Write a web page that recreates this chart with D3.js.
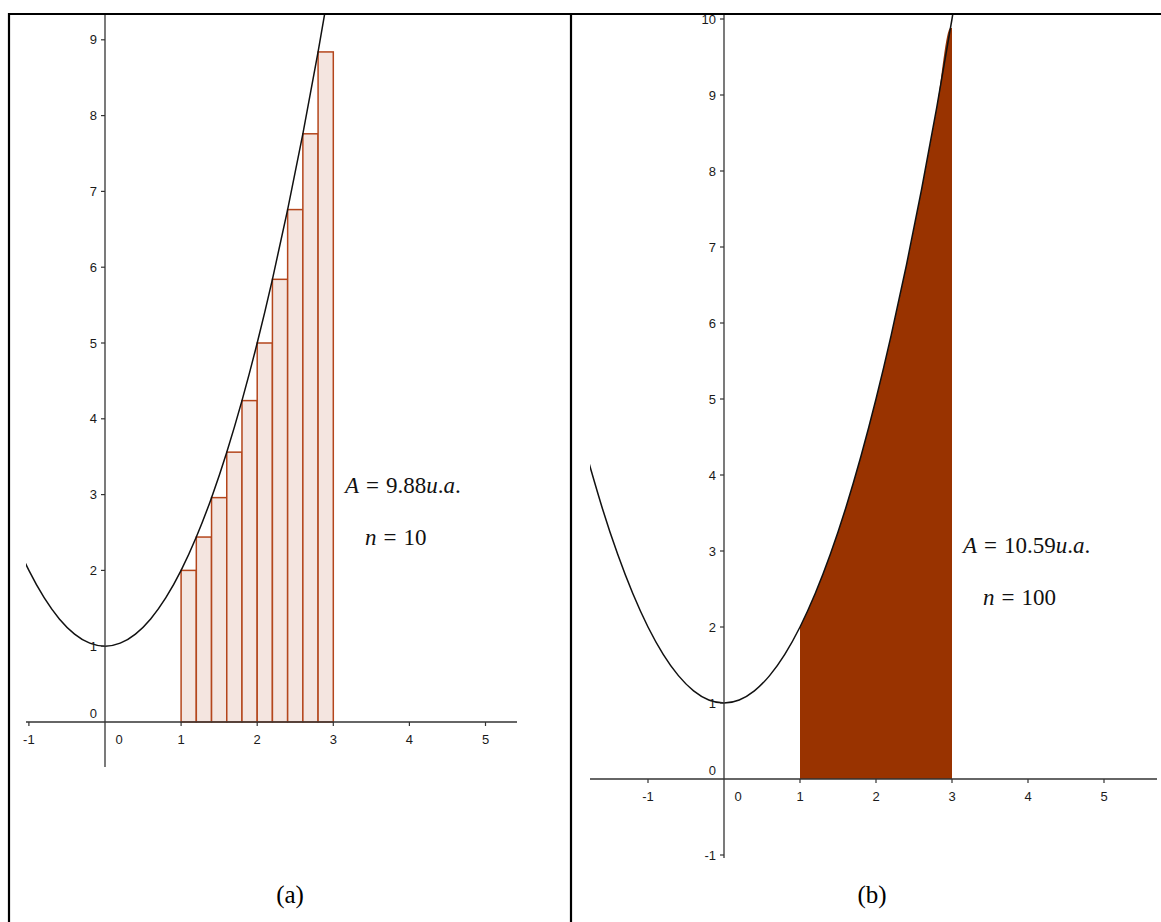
<!DOCTYPE html>
<html>
<head>
<meta charset="utf-8">
<script src="https://cdn.jsdelivr.net/npm/d3@7"></script>
<style>
  body { margin: 0; background: #fff; }
  svg { display: block; }
</style>
</head>
<body>
<svg id="chart" width="1161" height="922"></svg>
<script>
// ---------- data ----------
const xTicksA = [-1, 0, 1, 2, 3, 4, 5];
const yTicksA = [0, 1, 2, 3, 4, 5, 6, 7, 8, 9];
const xTicksB = [-1, 0, 1, 2, 3, 4, 5];
const yTicksB = [-1, 0, 1, 2, 3, 4, 5, 6, 7, 8, 9, 10];

// curve y = f(x) sample points
const curveX = [-1.8, -1.6, -1.4, -1.2, -1.0, -0.8, -0.6, -0.4, -0.2, 0, 0.2, 0.4, 0.6, 0.8, 1.0, 1.2, 1.4, 1.6, 1.8, 2.0, 2.2, 2.4, 2.6, 2.8, 3.0, 3.2];
const curveY = [4.24, 3.56, 2.96, 2.44, 2.00, 1.64, 1.36, 1.16, 1.04, 1.00, 1.04, 1.16, 1.36, 1.64, 2.00, 2.44, 2.96, 3.56, 4.24, 5.00, 5.84, 6.76, 7.76, 8.84, 10.00, 11.24];

// panel (a): 10 rectangles
const rectLeftA = [1.0, 1.2, 1.4, 1.6, 1.8, 2.0, 2.2, 2.4, 2.6, 2.8];
const rectHeightA = [2.00, 2.44, 2.96, 3.56, 4.24, 5.00, 5.84, 6.76, 7.76, 8.84];
const rectWidthA = 0.2;

// panel (b): filled region (n = 100)
const areaBX = [1.0, 1.2, 1.4, 1.6, 1.8, 2.0, 2.2, 2.4, 2.6, 2.8, 2.98, 3.0];
const areaBY = [2.00, 2.44, 2.96, 3.56, 4.24, 5.00, 5.84, 6.76, 7.76, 8.84, 9.88, 9.88];

const labelsA = { area: "9.88", n: "10", caption: "(a)" };
const labelsB = { area: "10.59", n: "100", caption: "(b)" };

// ---------- drawing ----------
const svg = d3.select("#chart");
const curvePts = curveX.map((x, i) => [x, curveY[i]]);
const sans = "'Liberation Sans', Arial, sans-serif";
const serif = "'Liberation Serif', 'Times New Roman', serif";

function panel(opt) {
  const g = svg.append("g");
  const x = d3.scaleLinear().domain([0, 1]).range([opt.x0, opt.x0 + opt.ux]);
  const y = d3.scaleLinear().domain([0, 1]).range([opt.y0, opt.y0 - opt.uy]);

  const clipId = "clip" + opt.id;
  svg.append("clipPath").attr("id", clipId)
    .append("rect").attr("x", opt.left).attr("y", 15)
    .attr("width", opt.right - opt.left).attr("height", opt.bottom - 15);

  const plot = g.append("g").attr("clip-path", `url(#${clipId})`);

  opt.drawFill(plot, x, y);

  const axisColor = "#333";
  g.append("line").attr("x1", opt.left).attr("x2", opt.right)
    .attr("y1", y(0)).attr("y2", y(0)).attr("stroke", axisColor).attr("stroke-width", 1.3);
  g.append("line").attr("x1", x(0)).attr("x2", x(0))
    .attr("y1", 15).attr("y2", opt.yAxisBottom).attr("stroke", axisColor).attr("stroke-width", 1.3);

  opt.xTicks.forEach(t => {
    if (t !== 0) {
      g.append("line").attr("x1", x(t)).attr("x2", x(t))
        .attr("y1", y(0)).attr("y2", y(0) + 4).attr("stroke", axisColor).attr("stroke-width", 1.2);
    }
    g.append("text").attr("x", t === 0 ? x(0) + 14 : x(t)).attr("y", y(0) + 22)
      .attr("text-anchor", "middle").style("font-family", sans)
      .attr("font-size", 13).attr("fill", "#1a1a1a").text(t < 0 ? "-" + Math.abs(t) : t);
  });
  opt.yTicks.forEach(t => {
    if (t !== 0) {
      g.append("line").attr("x1", x(0) - 4).attr("x2", x(0))
        .attr("y1", y(t)).attr("y2", y(t)).attr("stroke", axisColor).attr("stroke-width", 1.2);
    }
    g.append("text").attr("x", x(0) - 8).attr("y", t === 0 ? y(0) - 4 : y(t) + 4.5)
      .attr("text-anchor", "end").style("font-family", sans)
      .attr("font-size", 13).attr("fill", "#1a1a1a").text(t < 0 ? "-" + Math.abs(t) : t);
  });

  const line = d3.line().x(d => x(d[0])).y(d => y(d[1])).curve(d3.curveNatural);
  plot.append("path").datum(curvePts).attr("d", line)
    .attr("fill", "none").attr("stroke", "#111").attr("stroke-width", 1.5);

  const t1 = g.append("text").attr("x", opt.textX).attr("y", opt.textY)
    .style("font-family", serif).attr("font-size", 23).attr("fill", "#111");
  t1.append("tspan").attr("font-style", "italic").text("A");
  t1.append("tspan").attr("dx", 7).text("=");
  t1.append("tspan").attr("dx", 7).text(opt.labels.area);
  t1.append("tspan").attr("font-style", "italic").text("u");
  t1.append("tspan").text(".");
  t1.append("tspan").attr("font-style", "italic").text("a");
  t1.append("tspan").text(".");

  const t2 = g.append("text").attr("x", opt.textX + opt.nDx).attr("y", opt.textY + 52)
    .style("font-family", serif).attr("font-size", 23).attr("fill", "#111");
  t2.append("tspan").attr("font-style", "italic").text("n");
  t2.append("tspan").attr("dx", 7).text("=");
  t2.append("tspan").attr("dx", 7).text(opt.labels.n);

  g.append("text").attr("x", opt.capX).attr("y", 903).attr("text-anchor", "middle")
    .style("font-family", serif).attr("font-size", 25).attr("fill", "#000").text(opt.labels.caption);
}

panel({
  id: "A", x0: 105, y0: 722, ux: 76.1, uy: 75.8,
  left: 26, right: 517, bottom: 770, yAxisBottom: 767,
  xTicks: xTicksA, yTicks: yTicksA,
  textX: 345, textY: 493, nDx: 20, capX: 290, labels: labelsA,
  drawFill: (plot, x, y) => {
    plot.selectAll("rect.bar").data(rectLeftA).join("rect").attr("class", "bar")
      .attr("x", d => x(d))
      .attr("width", x(rectWidthA) - x(0))
      .attr("y", (d, i) => y(rectHeightA[i]))
      .attr("height", (d, i) => y(0) - y(rectHeightA[i]))
      .attr("fill", "#f4e5e0").attr("stroke", "#b4461c").attr("stroke-width", 1.5);
  }
});

panel({
  id: "B", x0: 724, y0: 779, ux: 76, uy: 76,
  left: 590, right: 1157, bottom: 860, yAxisBottom: 858,
  xTicks: xTicksB, yTicks: yTicksB,
  textX: 963, textY: 553, nDx: 20, capX: 872, labels: labelsB,
  drawFill: (plot, x, y) => {
    const pts = areaBX.map((v, i) => [v, areaBY[i]]);
    const area = d3.area().x(d => x(d[0])).y0(y(0)).y1(d => y(d[1])).curve(d3.curveMonotoneX);
    plot.append("path").datum(pts).attr("d", area).attr("fill", "#993300");
  }
});

const border = svg.append("g").attr("stroke", "#000").attr("stroke-width", 2.2);
border.append("line").attr("x1", 8).attr("x2", 1161).attr("y1", 14).attr("y2", 14);
border.append("line").attr("x1", 9).attr("x2", 9).attr("y1", 13).attr("y2", 922);
border.append("line").attr("x1", 571).attr("x2", 571).attr("y1", 13).attr("y2", 922);
</script>
</body>
</html>
